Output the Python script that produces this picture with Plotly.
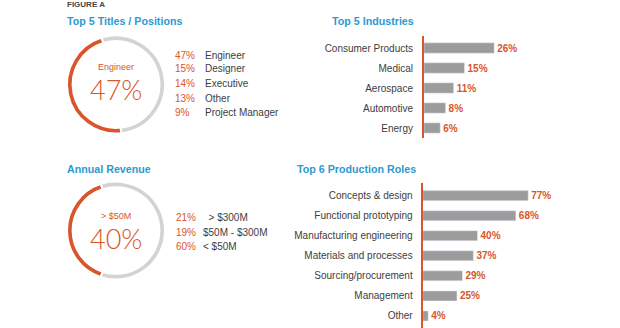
import plotly.graph_objects as go

# ---- data ----
titles = ["Engineer", "Designer", "Executive", "Other", "Project Manager"]
title_pct = [47, 15, 14, 13, 9]

revenue_labels = ["  > $300M", "$50M - $300M", "< $50M"]
revenue_pct = [21, 19, 60]

industries = ["Consumer Products", "Medical", "Aerospace", "Automotive", "Energy"]
industry_pct = [26, 15, 11, 8, 6]

roles = ["Concepts & design", "Functional prototyping", "Manufacturing engineering",
         "Materials and processes", "Sourcing/procurement", "Management", "Other"]
role_pct = [77, 68, 40, 37, 29, 25, 4]

# ---- style ----
W, H = 620, 328
ORANGE = "#d9552b"
BLUE = "#2b9ad0"
BAR_GRAY = "#9c9c9c"
RING_GRAY = "#d3d3d3"
TEXT = "#3d3d3d"
FONT = "Liberation Sans"


def px_x(x):
    return x / W


def px_y(y):
    return 1 - y / H


fig = go.Figure()

# ---- donuts ----
def donut(value, cy, start_deg):
    """Ring whose highlighted arc starts start_deg left of 12 o'clock and runs counterclockwise."""
    r = 49
    cx = 116
    # plotly places the first slice clockwise from `rotation`, so shift by the arc length
    rotation = -start_deg - 360 * value / 100
    if rotation < -360:
        rotation += 360
    fig.add_trace(go.Pie(
        values=[value, 100 - value],
        marker=dict(colors=[ORANGE, RING_GRAY], line=dict(color="white", width=2)),
        hole=0.885, sort=False, direction="counterclockwise", rotation=rotation,
        textinfo="none", hoverinfo="skip", showlegend=False,
        domain=dict(x=[px_x(cx - r), px_x(cx + r)], y=[px_y(cy + r), px_y(cy - r)]),
    ))


donut(title_pct[0], 84.5, 17)
revenue_top = revenue_pct[0] + revenue_pct[1]
donut(revenue_top, 230.5, 18)

# ---- bar charts ----
fig.add_trace(go.Bar(
    x=industry_pct, y=industries, orientation="h", width=0.52,
    marker=dict(color=BAR_GRAY), texttemplate="<b>%{x}%</b>", textposition="outside",
    constraintext="none",
    textfont=dict(color=ORANGE, size=10, family=FONT), cliponaxis=False,
    xaxis="x", yaxis="y", showlegend=False, hoverinfo="skip",
))
fig.add_trace(go.Bar(
    x=role_pct, y=roles, orientation="h", width=0.5,
    marker=dict(color=BAR_GRAY), texttemplate="<b>%{x}%</b>", textposition="outside",
    constraintext="none",
    textfont=dict(color=ORANGE, size=10, family=FONT), cliponaxis=False,
    xaxis="x2", yaxis="y2", showlegend=False, hoverinfo="skip",
))

axis_common = dict(showgrid=False, zeroline=False, fixedrange=True)
fig.update_layout(
    width=W, height=H, margin=dict(l=0, r=0, t=0, b=0),
    paper_bgcolor="white", plot_bgcolor="white",
    font=dict(family=FONT, color=TEXT, size=10),
    xaxis=dict(domain=[px_x(424), px_x(586)], range=[0, 60], visible=False, **axis_common),
    yaxis=dict(domain=[px_y(138), px_y(36)], type="category", categoryorder="array",
               categoryarray=industries, range=[4.5, -0.6], showline=True,
               linecolor=ORANGE, linewidth=2, ticks="", ticklabelstandoff=7,
               tickfont=dict(size=10, color=TEXT, family=FONT), anchor="x", **axis_common),
    xaxis2=dict(domain=[px_x(422.7), px_x(559.7)], range=[0, 100], visible=False,
                anchor="y2", **axis_common),
    yaxis2=dict(domain=[px_y(328), px_y(183)], type="category", categoryorder="array",
                categoryarray=roles, range=[6.6, -0.63], showline=True,
                linecolor=ORANGE, linewidth=2, ticks="", ticklabelstandoff=6,
                tickfont=dict(size=10, color=TEXT, family=FONT), anchor="x2", **axis_common),
)

# ---- text ----
ann = []


def text(x, y, s, size, color, anchor="left", bold=False, weight=None, family=FONT):
    f = dict(size=size, color=color, family=family)
    if weight:
        f["weight"] = weight
    ann.append(dict(x=px_x(x), y=px_y(y), xref="paper", yref="paper",
                    text=f"<b>{s}</b>" if bold else s, showarrow=False,
                    xanchor=anchor, yanchor="middle", borderpad=0, font=f))


text(66, 4, "FIGURE A", 8, "#444444", bold=True)
text(66, 21, "Top 5 Titles / Positions", 10.7, BLUE, bold=True)
text(331, 21, "Top 5 Industries", 10.7, BLUE, bold=True)
text(66, 169, "Annual Revenue", 10.7, BLUE, bold=True)
text(296, 169, "Top 6 Production Roles", 10.7, BLUE, bold=True)

# donut centre labels
text(116, 67, titles[0], 9, ORANGE, anchor="center")
text(116, 89, f"{title_pct[0]}%", 27, ORANGE, anchor="center", weight=300, family="Lato")
text(116, 215.5, "> $50M", 9, ORANGE, anchor="center")
text(116, 238, f"{revenue_top}%", 27, ORANGE, anchor="center", weight=300, family="Lato")

# legends
rows1 = [55, 69, 83.5, 98, 112]
for yy, lab, p in zip(rows1, titles, title_pct):
    text(173.5, yy, f"{p}%", 10, ORANGE)
    text(203.5, yy, lab, 10, TEXT)

rows2 = [217.5, 232, 246.5]
for yy, lab, p in zip(rows2, revenue_labels, revenue_pct):
    text(174.5, yy, f"{p}%", 10, ORANGE)
    text(201.5, yy, lab.replace(" ", "&nbsp;") if lab.startswith(" ") else lab, 10, TEXT)

fig.update_layout(annotations=ann)

fig.write_html("out.html")
